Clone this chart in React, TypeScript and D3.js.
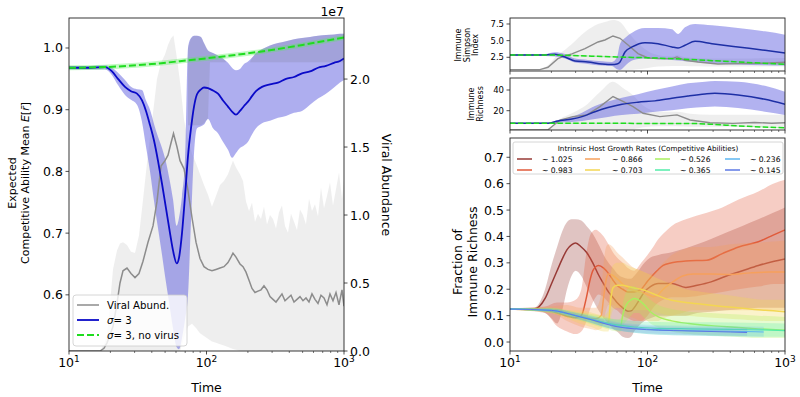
import React from "react";
import * as d3 from "d3";

type Row = [number, number, number, number];

// ---------- left panel: sigma = 3 (left axis) ----------
const sigmaTime = [10, 14.2, 18.3, 20.55, 22.72, 25.55, 28.24, 31.23, 33.96, 36.31, 38.83, 41.52, 44.39, 47.47, 50.76, 54.27, 57.06, 60.73, 63.1, 66.34, 69.78, 73.37, 77.16, 81.13, 85.3, 91.2, 95.9, 102.5, 111.5, 121.2, 131.8, 143.3, 153.3, 163.9, 175.2, 187.4, 200.4, 214.2, 229.1, 253.3, 289.6, 331.1, 378.6, 432.9, 494.9, 565.9, 647.1, 739.8, 845.9, 935.2, 1000];
const sigmaMean = [0.968, 0.968, 0.969, 0.962, 0.95, 0.937, 0.93, 0.926, 0.915, 0.898, 0.875, 0.85, 0.817, 0.78, 0.74, 0.7, 0.672, 0.651, 0.66, 0.7, 0.76, 0.825, 0.87, 0.905, 0.925, 0.933, 0.936, 0.935, 0.931, 0.926, 0.915, 0.905, 0.897, 0.892, 0.898, 0.906, 0.913, 0.922, 0.93, 0.937, 0.941, 0.944, 0.95, 0.953, 0.959, 0.962, 0.968, 0.971, 0.976, 0.979, 0.983];
const sigmaLow = [0.965, 0.965, 0.965, 0.956, 0.94, 0.924, 0.916, 0.908, 0.88, 0.84, 0.8, 0.752, 0.708, 0.665, 0.62, 0.578, 0.546, 0.515, 0.512, 0.53, 0.56, 0.6, 0.72, 0.83, 0.87, 0.873, 0.876, 0.885, 0.87, 0.862, 0.848, 0.835, 0.822, 0.83, 0.838, 0.842, 0.848, 0.86, 0.87, 0.878, 0.882, 0.887, 0.89, 0.895, 0.898, 0.908, 0.918, 0.926, 0.936, 0.944, 0.948];
const sigmaHigh = [0.971, 0.971, 0.972, 0.968, 0.96, 0.948, 0.937, 0.933, 0.932, 0.915, 0.9, 0.877, 0.856, 0.838, 0.815, 0.783, 0.755, 0.712, 0.725, 0.76, 0.82, 1.0, 1.016, 1.02, 1.02, 1.018, 1.008, 0.996, 0.992, 0.988, 0.983, 0.976, 0.968, 0.964, 0.966, 0.974, 0.978, 0.984, 0.992, 0.998, 1.004, 1.008, 1.011, 1.014, 1.016, 1.018, 1.02, 1.021, 1.022, 1.023, 1.023];

// darker overlap patches on the sigma band [t, lo, hi]
const shadeA: [number, number, number][] = [
  [73.37, 0.875, 1.0], [77.16, 0.875, 1.016], [81.13, 0.875, 1.02], [85.3, 0.875, 1.02], [91.2, 0.875, 1.018],
  [95.9, 0.878, 1.008], [102.5, 0.886, 0.996], [106, 0.977, 0.994], [111.5, 0.977, 0.992], [121.2, 0.977, 0.988],
  [131.8, 0.977, 0.983], [138.5, 0.977, 0.978],
];
const shadeB: [number, number, number][] = [
  [207, 0.977, 0.977], [214.2, 0.977, 0.984], [229.1, 0.977, 0.992], [253.3, 0.977, 0.998], [289.6, 0.977, 1.004],
  [331.1, 0.977, 1.008], [378.6, 0.977, 1.011], [432.9, 0.977, 1.014], [494.9, 0.977, 1.016], [565.9, 0.977, 1.018],
  [647.1, 0.977, 1.02], [739.8, 0.977, 1.021], [845.9, 0.977, 1.022], [935.2, 0.977, 1.023], [1000, 0.977, 1.023],
];

// no virus run
const noVirusTime = [10, 18, 40, 73, 140, 245, 500, 1000];
const noVirusMean = [0.968, 0.969, 0.974, 0.98, 0.987, 0.994, 1.005, 1.017];
const noVirusLow = [0.964, 0.965, 0.97, 0.976, 0.983, 0.99, 1.001, 1.013];
const noVirusHigh = [0.972, 0.973, 0.978, 0.984, 0.991, 0.998, 1.009, 1.021];

// viral abundance (right axis, x 1e7)
const viralTime = [10, 16.81, 17.97, 18.9, 19.87, 20.89, 22.34, 23.49, 24.7, 26.41, 28.24, 30.2, 32.29, 34.53, 37.54, 40.83, 43.65, 46.68, 49.91, 52.48, 55.19, 57.54, 61.03, 64.17, 68.62, 73.37, 78.46, 83.88, 89.7, 95.9, 102.5, 109.6, 117.2, 125.4, 134, 143.3, 150.7, 155.8, 163.9, 175.2, 184.3, 193.8, 203.8, 214.2, 225.3, 236.8, 249.1, 261.9, 275.4, 289.6, 304.5, 320.2, 336.7, 354, 372.3, 391.4, 411.6, 432.9, 455.1, 478.6, 503.2, 529.1, 556.4, 585.1, 615.2, 646.9, 680.2, 715.3, 752.1, 790.9, 831.8, 874.6, 919.6, 967, 1000];
const viralMean = [0, 0, 0.02, 0.06, 0.12, 0.18, 0.35, 0.5, 0.59, 0.61, 0.57, 0.54, 0.57, 0.66, 0.8, 0.92, 1.1, 1.36, 1.4, 1.44, 1.53, 1.6, 1.5, 1.4, 1.34, 1.18, 0.98, 0.8, 0.68, 0.62, 0.6, 0.59, 0.6, 0.61, 0.62, 0.65, 0.69, 0.72, 0.69, 0.64, 0.62, 0.58, 0.52, 0.46, 0.43, 0.44, 0.45, 0.48, 0.45, 0.4, 0.38, 0.36, 0.39, 0.42, 0.37, 0.39, 0.41, 0.36, 0.38, 0.4, 0.37, 0.39, 0.36, 0.42, 0.38, 0.35, 0.41, 0.39, 0.34, 0.42, 0.37, 0.43, 0.34, 0.45, 0.33];
const viralLow = [0, 0, 0, 0, 0, 0, 0, 0, 0, 0, 0, 0, 0, 0, 0, 0, 0, 0, 0, 0, 0, 0, 0, 0, 0.1, 0.18, 0.2, 0.17, 0.13, 0.11, 0.09, 0.07, 0.06, 0.05, 0.04, 0.03, 0.02, 0.015, 0.01, 0, 0, 0, 0, 0, 0, 0, 0, 0, 0, 0, 0, 0, 0, 0, 0, 0, 0, 0, 0, 0, 0, 0, 0, 0, 0, 0, 0, 0, 0, 0, 0, 0, 0, 0, 0];
const viralHigh = [0, 0, 0.05, 0.12, 0.35, 0.6, 0.74, 0.79, 0.8, 0.78, 0.73, 0.72, 0.85, 1.11, 1.45, 1.75, 2.0, 2.12, 2.18, 2.25, 2.3, 2.32, 2.15, 1.98, 1.7, 1.55, 1.45, 1.38, 1.3, 1.22, 1.15, 1.06, 1.14, 1.22, 1.25, 1.3, 1.36, 1.4, 1.35, 1.3, 1.25, 1.1, 1.03, 1.09, 0.95, 1.01, 0.97, 1.06, 0.93, 1.0, 0.97, 0.9, 1.02, 1.07, 0.92, 0.87, 1.01, 0.95, 0.89, 1.04, 1.0, 0.93, 1.12, 1.03, 1.08, 0.99, 1.2, 1.05, 1.14, 1.24, 1.07, 1.19, 1.31, 1.12, 1.26];

// ---------- right panels [t, mean, lo, hi] ----------
const simpsonSigma: Row[] = [
  [10, 2.85, 2.7, 3.0], [18, 2.85, 2.7, 3.0], [21.2, 2.95, 2.6, 3.25], [25.1, 2.55, 2.3, 3.0], [29.7, 1.95, 1.7, 2.3],
  [36.9, 1.8, 1.5, 2.1], [46.7, 1.5, 1.25, 1.9], [55.2, 1.4, 1.2, 1.8], [60, 1.5, 0.7, 2.5], [63.1, 1.8, 0.6, 4.5],
  [68.6, 3.3, 1.2, 5.4], [77.2, 4.05, 2.0, 6.2], [95.9, 4.7, 2.3, 6.9], [119.2, 4.55, 2.2, 6.9], [150.7, 4.05, 2.1, 6.7],
  [166.7, 3.9, 2.0, 6.0], [187.4, 4.3, 1.9, 7.0], [221.6, 4.9, 1.8, 7.5], [294.5, 4.55, 1.6, 7.3], [455, 4.05, 1.4, 6.9],
  [715, 3.55, 1.3, 6.4], [1000, 3.15, 1.25, 5.9],
];
const simpsonViral: Row[] = [
  [10, 0.65, 0.6, 0.65], [16.5, 0.65, 0.6, 0.7], [18.9, 1.0, 0.6, 1.3], [22.3, 2.3, 0.6, 2.9], [25, 2.7, 0.6, 3.6],
  [28.2, 3.0, 0.6, 4.5], [35.1, 3.8, 0.6, 6.3], [43.7, 4.8, 0.6, 7.5], [49, 5.1, 0.6, 7.8], [56.1, 5.7, 0.6, 8.1],
  [63.1, 5.35, 0.6, 7.8], [72.2, 4.35, 0.6, 6.3], [85.3, 3.05, 0.7, 4.6], [101, 2.4, 0.9, 3.4], [120, 2.3, 1.1, 2.8],
  [150.7, 2.3, 1.2, 2.6], [163.9, 2.55, 1.2, 2.8], [187.4, 2.05, 1.2, 2.5], [232.8, 1.8, 1.15, 2.4], [325, 1.5, 1.1, 2.3],
  [470, 1.55, 1.1, 2.3], [715, 1.6, 1.1, 2.35], [1000, 1.75, 1.1, 2.4],
];
const simpsonNoVirus: Row[] = [
  [10, 2.85, 2.75, 2.95], [20, 2.83, 2.73, 2.93], [49, 2.6, 2.5, 2.7], [150, 2.3, 2.2, 2.4], [455, 1.8, 1.7, 1.9], [1000, 1.45, 1.35, 1.55],
];
const richSigma: Row[] = [
  [10, 7.8, 7.3, 8.3], [18.9, 7.9, 7.3, 8.5], [22.3, 10, 8.5, 11], [28.2, 12, 9, 14], [33.4, 14.3, 10, 18],
  [41.5, 19, 12, 24.5], [51.6, 23, 14, 29], [65.2, 26.2, 15.8, 32.5], [85.3, 28.2, 17, 36], [113.3, 29.5, 19, 40],
  [150.7, 32.1, 20.5, 43.5], [197, 34.3, 22.3, 46.5], [262, 36.2, 23.5, 48], [309, 36.8, 24, 48.8], [455, 35.2, 22.5, 48],
  [715, 31, 19, 44], [1000, 26.2, 15.8, 38.3],
];
const richViral: Row[] = [
  [10, 1.5, 1.35, 1.6], [18.9, 1.5, 1.35, 2.5], [23.1, 11, 1.35, 12], [28.7, 14.3, 1.35, 18], [36.3, 16, 1.35, 26],
  [45.1, 24, 1.35, 38], [56.1, 33.7, 1.35, 48], [66.3, 28.9, 1.35, 42], [78.5, 24, 2, 35], [92.8, 17.5, 4, 25],
  [123, 14.3, 5, 19], [163.9, 16, 5, 19], [204, 11, 4.5, 17], [284.6, 8.4, 4.5, 16], [418, 7.8, 4.5, 16],
  [600, 8.6, 4.5, 16], [800, 7.9, 4.5, 16], [1000, 8.4, 4.5, 16],
];
const richNoVirus: Row[] = [
  [10, 7.8, 7.3, 8.3], [200, 7.7, 7.2, 8.2], [300, 6.8, 6.3, 7.3], [455, 5.3, 4.8, 5.8], [1000, 3.6, 3.1, 4.1],
];

// fraction of immune richness per growth rate
const rateLabels = ["1.025", "0.983", "0.866", "0.703", "0.526", "0.365", "0.236", "0.145"];
const rateColors = ["#973a36", "#e05a3a", "#f6a05c", "#f3d652", "#a9ef5f", "#52eca8", "#5cb6f0", "#5d78e4"];
const rateBandOpacity = [0.3, 0.3, 0.3, 0.3, 0.28, 0.26, 0.22, 0.14];
const rateLineWidth = [1.5, 1.5, 1.5, 1.5, 1.4, 1.2, 1.1, 1.0];

const fr1025: Row[] = [
  [10, 0.125, 0.122, 0.128], [15, 0.125, 0.12, 0.13], [18, 0.165, 0.11, 0.2], [20, 0.22, 0.09, 0.29], [22, 0.27, 0.07, 0.36],
  [24, 0.315, 0.12, 0.42], [26, 0.35, 0.2, 0.455], [28, 0.368, 0.25, 0.465], [30, 0.375, 0.27, 0.465], [33, 0.36, 0.25, 0.46],
  [36, 0.34, 0.21, 0.44], [40, 0.3, 0.16, 0.41], [44, 0.255, 0.12, 0.37], [48, 0.22, 0.09, 0.33], [52, 0.19, 0.07, 0.3],
  [56, 0.17, 0.05, 0.28], [60, 0.15, 0.04, 0.26], [66, 0.13, 0.02, 0.245], [72, 0.117, 0.015, 0.24], [76, 0.118, 0.02, 0.24],
  [80, 0.13, 0.04, 0.25], [86, 0.155, 0.06, 0.27], [95, 0.19, 0.08, 0.3], [105, 0.21, 0.09, 0.32], [120, 0.222, 0.1, 0.33],
  [150, 0.222, 0.1, 0.34], [190, 0.207, 0.1, 0.355], [230, 0.215, 0.11, 0.37], [290, 0.228, 0.115, 0.39], [375, 0.25, 0.12, 0.415],
  [490, 0.27, 0.125, 0.44], [640, 0.29, 0.13, 0.465], [820, 0.305, 0.13, 0.49], [1000, 0.315, 0.13, 0.51],
];
const fr0983: Row[] = [
  [10, 0.125, 0.122, 0.128], [18, 0.122, 0.11, 0.135], [22, 0.11, 0.06, 0.15], [26, 0.098, 0.04, 0.15], [30, 0.092, 0.03, 0.16],
  [33, 0.1, 0.04, 0.2], [36, 0.17, 0.08, 0.34], [38, 0.23, 0.12, 0.4], [40, 0.27, 0.15, 0.42], [42, 0.285, 0.17, 0.425],
  [44, 0.29, 0.18, 0.42], [48, 0.28, 0.17, 0.4], [52, 0.26, 0.15, 0.37], [56, 0.235, 0.13, 0.34], [60, 0.215, 0.12, 0.32],
  [66, 0.2, 0.1, 0.3], [72, 0.19, 0.09, 0.28], [80, 0.19, 0.08, 0.27], [90, 0.2, 0.08, 0.3], [100, 0.23, 0.1, 0.33],
  [110, 0.255, 0.13, 0.36], [120, 0.275, 0.15, 0.39], [130, 0.29, 0.16, 0.41], [150, 0.3, 0.17, 0.44], [190, 0.307, 0.17, 0.465],
  [270, 0.31, 0.18, 0.49], [350, 0.335, 0.19, 0.51], [460, 0.36, 0.2, 0.54], [640, 0.38, 0.21, 0.57], [820, 0.405, 0.22, 0.6],
  [1000, 0.425, 0.22, 0.615],
];
const fr0866: Row[] = [
  [10, 0.125, 0.122, 0.128], [20, 0.122, 0.11, 0.135], [26, 0.11, 0.08, 0.14], [32, 0.098, 0.06, 0.13], [38, 0.09, 0.05, 0.13],
  [42, 0.088, 0.045, 0.13], [46, 0.1, 0.05, 0.18], [48, 0.17, 0.08, 0.3], [50, 0.235, 0.12, 0.36], [52, 0.258, 0.14, 0.37],
  [56, 0.252, 0.14, 0.36], [60, 0.24, 0.13, 0.34], [66, 0.22, 0.12, 0.32], [72, 0.205, 0.1, 0.3], [80, 0.195, 0.09, 0.28],
  [90, 0.188, 0.08, 0.27], [100, 0.18, 0.08, 0.26], [110, 0.172, 0.08, 0.26], [120, 0.18, 0.08, 0.28], [130, 0.2, 0.09, 0.3],
  [150, 0.225, 0.1, 0.33], [180, 0.25, 0.11, 0.35], [215, 0.258, 0.12, 0.36], [290, 0.258, 0.12, 0.36], [400, 0.256, 0.12, 0.37],
  [560, 0.262, 0.12, 0.375], [770, 0.265, 0.12, 0.38], [1000, 0.265, 0.12, 0.385],
];
const fr0703: Row[] = [
  [10, 0.125, 0.122, 0.128], [20, 0.12, 0.11, 0.13], [26, 0.105, 0.09, 0.12], [32, 0.095, 0.07, 0.12], [40, 0.082, 0.055, 0.11],
  [48, 0.07, 0.04, 0.1], [52, 0.075, 0.04, 0.12], [54, 0.16, 0.09, 0.25], [56, 0.205, 0.12, 0.29], [60, 0.215, 0.13, 0.3],
  [66, 0.215, 0.13, 0.3], [72, 0.21, 0.12, 0.29], [80, 0.205, 0.12, 0.28], [90, 0.2, 0.12, 0.27], [100, 0.192, 0.12, 0.26],
  [120, 0.175, 0.11, 0.24], [150, 0.158, 0.1, 0.22], [190, 0.15, 0.1, 0.2], [250, 0.143, 0.095, 0.19], [350, 0.135, 0.09, 0.18],
  [490, 0.128, 0.085, 0.17], [720, 0.12, 0.08, 0.16], [1000, 0.115, 0.08, 0.16],
];
const fr0526: Row[] = [
  [10, 0.125, 0.122, 0.128], [20, 0.12, 0.11, 0.13], [30, 0.1, 0.085, 0.115], [40, 0.085, 0.065, 0.105], [50, 0.072, 0.05, 0.095],
  [60, 0.062, 0.04, 0.085], [64, 0.065, 0.04, 0.09], [66, 0.1, 0.06, 0.14], [70, 0.14, 0.08, 0.19], [76, 0.16, 0.1, 0.21],
  [80, 0.165, 0.11, 0.21], [86, 0.16, 0.11, 0.2], [95, 0.14, 0.09, 0.18], [105, 0.115, 0.07, 0.16], [120, 0.095, 0.055, 0.14],
  [150, 0.08, 0.04, 0.125], [200, 0.07, 0.03, 0.115], [290, 0.062, 0.025, 0.11], [430, 0.056, 0.02, 0.105], [640, 0.05, 0.015, 0.1],
  [1000, 0.045, 0.015, 0.095],
];
const fr0365: Row[] = [
  [10, 0.125, 0.122, 0.128], [20, 0.12, 0.112, 0.128], [30, 0.1, 0.088, 0.112], [40, 0.085, 0.07, 0.1], [50, 0.073, 0.055, 0.09],
  [60, 0.065, 0.045, 0.085], [80, 0.057, 0.035, 0.08], [120, 0.052, 0.028, 0.076], [200, 0.05, 0.025, 0.075], [400, 0.048, 0.022, 0.074],
  [700, 0.046, 0.02, 0.072], [1000, 0.043, 0.02, 0.07],
];
const fr0236: Row[] = [
  [10, 0.125, 0.122, 0.128], [20, 0.12, 0.113, 0.127], [30, 0.1, 0.09, 0.11], [40, 0.084, 0.07, 0.097], [50, 0.07, 0.055, 0.085],
  [60, 0.06, 0.045, 0.076], [80, 0.052, 0.035, 0.068], [120, 0.046, 0.028, 0.064], [200, 0.043, 0.025, 0.062], [400, 0.041, 0.022, 0.06],
  [700, 0.038, 0.02, 0.058],
];
const fr0145: Row[] = [
  [10, 0.125, 0.122, 0.128], [20, 0.12, 0.114, 0.126], [30, 0.1, 0.09, 0.11], [40, 0.083, 0.072, 0.095], [50, 0.068, 0.056, 0.082],
  [60, 0.058, 0.046, 0.072], [80, 0.05, 0.037, 0.064], [120, 0.045, 0.031, 0.06], [200, 0.042, 0.028, 0.057], [400, 0.038, 0.025, 0.054],
  [530, 0.036, 0.024, 0.052],
];
const rateSeries = [fr1025, fr0983, fr0866, fr0703, fr0526, fr0365, fr0236, fr0145];

const FONT = "DejaVu Sans, sans-serif";
const AX = "#222";

const zip = (t: number[], m: number[], lo: number[], hi: number[]): Row[] => t.map((v, i) => [v, m[i], lo[i], hi[i]]);

function area(rows: any[], x: any, y: any, curve: any = d3.curveMonotoneX) {
  return d3.area<any>().x(d => x(d[0])).y0(d => y(d[rows[0].length - 2])).y1(d => y(d[rows[0].length - 1])).curve(curve)(rows) || "";
}
function line(rows: any[], x: any, y: any, curve: any = d3.curveMonotoneX) {
  return d3.line<any>().x(d => x(d[0])).y(d => y(d[1])).curve(curve)(rows) || "";
}

function LogTicks({ x, y, labels }: { x: any; y: number; labels: boolean }) {
  const ticks: number[] = x.ticks();
  return (
    <g>
      {ticks.map(t => {
        const major = Math.abs(Math.log10(t) - Math.round(Math.log10(t))) < 1e-6;
        return <line key={t} x1={x(t)} x2={x(t)} y1={y} y2={y + (major ? 3.5 : 2)} stroke={AX} strokeWidth={major ? 0.8 : 0.6} />;
      })}
      {labels &&
        [10, 100, 1000].map((t, i) => (
          <text key={t} x={x(t)} y={y + 16} textAnchor="middle" fontSize={12.5}>
            10<tspan dy={-5.5} fontSize={9}>{i + 1}</tspan>
          </text>
        ))}
    </g>
  );
}

function YTicks({ y, x0, ticks, fmt, size, side = "left" }: { y: any; x0: number; ticks: number[]; fmt: (v: number) => string; size: number; side?: string }) {
  const s = side === "left" ? -1 : 1;
  return (
    <g>
      {ticks.map(t => (
        <g key={t}>
          <line x1={x0} x2={x0 + s * 3.5} y1={y(t)} y2={y(t)} stroke={AX} strokeWidth={0.8} />
          <text x={x0 + s * 6} y={y(t) + size * 0.36} fontSize={size} textAnchor={side === "left" ? "end" : "start"}>
            {fmt(t)}
          </text>
        </g>
      ))}
    </g>
  );
}

export default function App() {
  const xL = d3.scaleLog().domain([10, 1000]).range([69, 344]);
  const yL = d3.scaleLinear().domain([0.509, 1.0486]).range([351, 18]);
  const yV = d3.scaleLinear().domain([0, 2.449]).range([351, 18]);
  const xR = d3.scaleLog().domain([10, 1000]).range([510, 785]);
  const yS = d3.scaleLinear().domain([0.44, 8.4]).range([71, 18]);
  const yRi = d3.scaleLinear().domain([1.35, 51.6]).range([130, 78]);
  const yF = d3.scaleLinear().domain([-0.034, 0.773]).range([351, 138]);

  const sigma = zip(sigmaTime, sigmaMean, sigmaLow, sigmaHigh);
  const noVirus = zip(noVirusTime, noVirusMean, noVirusLow, noVirusHigh);
  const viral = zip(viralTime, viralMean, viralLow, viralHigh);
  const f1 = d3.format(".1f");

  const topPanel = (id: string, y: any, sig: Row[], vir: Row[], nov: Row[]) => (
    <g clipPath={`url(#${id})`}>
      <path d={area(vir, xR, y)} fill="#c8c8c8" fillOpacity={0.3} />
      <path d={area(sig, xR, y)} fill="#5555dd" fillOpacity={0.45} />
      <path d={area(nov, xR, y)} fill="#33dd33" fillOpacity={0.3} />
      <path d={line(vir, xR, y, d3.curveLinear)} fill="none" stroke="#8c8c8c" strokeWidth={1.4} />
      <path d={line(sig, xR, y)} fill="none" stroke="#1d2fa5" strokeWidth={1.5} />
      <path d={line(nov, xR, y)} fill="none" stroke="#1fdc1f" strokeWidth={1.5} strokeDasharray="5.5,2.4" />
    </g>
  );

  return (
    <svg width={800} height={397} style={{ position: "absolute", left: 0, top: 0, background: "#fff" }} fontFamily={FONT}>
      <defs>
        <clipPath id="cL"><rect x={69} y={18} width={275} height={333} /></clipPath>
        <clipPath id="cS"><rect x={510} y={18} width={275} height={53} /></clipPath>
        <clipPath id="cR"><rect x={510} y={78} width={275} height={52} /></clipPath>
        <clipPath id="cF"><rect x={510} y={138} width={275} height={213} /></clipPath>
      </defs>

      {/* ---------------- left panel ---------------- */}
      <g clipPath="url(#cL)">
        <path d={area(viral, xL, yV, d3.curveLinear)} fill="#c8c8c8" fillOpacity={0.3} />
        <path d={area(sigma, xL, yL)} fill="#5555dd" fillOpacity={0.48} />
        <path d={area(shadeA, xL, yL, d3.curveLinear)} fill="#7a7a90" fillOpacity={0.22} />
        <path d={area(shadeB, xL, yL, d3.curveLinear)} fill="#7a7a90" fillOpacity={0.22} />
        <path d={area(noVirus, xL, yL)} fill="#55ee55" fillOpacity={0.35} />
        <path d={line(viral, xL, yV, d3.curveLinear)} fill="none" stroke="#8c8c8c" strokeWidth={1.5} />
        <path d={line(sigma, xL, yL)} fill="none" stroke="#0a0ac8" strokeWidth={1.8} />
        <path d={line(noVirus, xL, yL)} fill="none" stroke="#1fdc1f" strokeWidth={2} strokeDasharray="7,3" />
      </g>
      <rect x={69} y={18} width={275} height={333} fill="none" stroke={AX} strokeWidth={0.9} />
      <LogTicks x={xL} y={351} labels />
      <YTicks y={yL} x0={69} ticks={[0.6, 0.7, 0.8, 0.9, 1.0]} fmt={f1} size={12.5} />
      <YTicks y={yV} x0={344} ticks={[0, 0.5, 1.0, 1.5, 2.0]} fmt={f1} size={12.5} side="right" />
      <text x={344} y={16} textAnchor="end" fontSize={12.5}>1e7</text>
      <text x={206.5} y={392} textAnchor="middle" fontSize={12.5}>Time</text>
      <g transform="translate(16,183) rotate(-90)">
        <text textAnchor="middle" fontSize={11}>Expected</text>
      </g>
      <g transform="translate(29,183) rotate(-90)">
        <text textAnchor="middle" fontSize={11}>
          Competitive Ability Mean <tspan fontStyle="italic">E</tspan>[<tspan fontStyle="italic">{"r\u0304"}</tspan>]
        </text>
      </g>
      <g transform="translate(382,185) rotate(90)">
        <text textAnchor="middle" fontSize={12.5}>Viral Abundance</text>
      </g>

      {/* left legend */}
      <g fontSize={10.2}>
        <rect x={73} y={295} width={114} height={51} rx={3} fill="#fff" fillOpacity={0.8} stroke="#cccccc" strokeWidth={0.8} />
        <line x1={77} x2={99} y1={305} y2={305} stroke="#8c8c8c" strokeWidth={1.5} />
        <text x={107} y={309}>Viral Abund.</text>
        <line x1={77} x2={99} y1={320} y2={320} stroke="#0a0ac8" strokeWidth={1.8} />
        <text x={107} y={324}><tspan fontStyle="italic">σ</tspan>= 3</text>
        <line x1={77} x2={99} y1={335} y2={335} stroke="#1fdc1f" strokeWidth={2} strokeDasharray="7,3" />
        <text x={107} y={339}><tspan fontStyle="italic">σ</tspan>= 3, no virus</text>
      </g>

      {/* ---------------- right top panels ---------------- */}
      {topPanel("cS", yS, simpsonSigma, simpsonViral, simpsonNoVirus)}
      <rect x={510} y={18} width={275} height={53} fill="none" stroke={AX} strokeWidth={0.9} />
      <LogTicks x={xR} y={71} labels={false} />
      <YTicks y={yS} x0={510} ticks={[2.5, 5.0, 7.5]} fmt={f1} size={8.5} />
      <g fontSize={8} textAnchor="middle">
        <text transform="translate(461,45) rotate(-90)">Immune</text>
        <text transform="translate(469.5,45) rotate(-90)">Simpson</text>
        <text transform="translate(478,45) rotate(-90)">Index</text>
      </g>

      {topPanel("cR", yRi, richSigma, richViral, richNoVirus)}
      <rect x={510} y={78} width={275} height={52} fill="none" stroke={AX} strokeWidth={0.9} />
      <LogTicks x={xR} y={130} labels={false} />
      <YTicks y={yRi} x0={510} ticks={[20, 40]} fmt={d3.format("d")} size={8.5} />
      <g fontSize={8} textAnchor="middle">
        <text transform="translate(474,104) rotate(-90)">Immune</text>
        <text transform="translate(482.5,104) rotate(-90)">Richness</text>
      </g>

      {/* ---------------- right bottom panel ---------------- */}
      <g clipPath="url(#cF)">
        {rateSeries.map((rows, i) => (
          <g key={rateLabels[i]}>
            <path d={area(rows, xR, yF)} fill={rateColors[i]} fillOpacity={rateBandOpacity[i]} />
            <path d={line(rows, xR, yF)} fill="none" stroke={rateColors[i]} strokeWidth={rateLineWidth[i]} />
          </g>
        ))}
      </g>
      <rect x={510} y={138} width={275} height={213} fill="none" stroke={AX} strokeWidth={0.9} />
      <LogTicks x={xR} y={351} labels />
      <YTicks y={yF} x0={510} ticks={[0, 0.1, 0.2, 0.3, 0.4, 0.5, 0.6, 0.7]} fmt={f1} size={12.5} />
      <text x={647.5} y={392} textAnchor="middle" fontSize={12.5}>Time</text>
      <g fontSize={12.5} textAnchor="middle">
        <text transform="translate(462,262) rotate(-90)">Fraction of</text>
        <text transform="translate(477,262) rotate(-90)">Immune Richness</text>
      </g>

      {/* bottom legend */}
      <g>
        <rect x={513} y={142} width={270} height={32} rx={2} fill="#fff" fillOpacity={0.8} stroke="#cccccc" strokeWidth={0.8} />
        <text x={648} y={150.5} textAnchor="middle" fontSize={7.2}>Intrinsic Host Growth Rates (Competitive Abilities)</text>
        {rateLabels.map((lab, i) => {
          const col = Math.floor(i / 2);
          const row = i % 2;
          const lx = [517, 585, 655, 725][col];
          const tx = [542, 612, 680, 750][col];
          const ly = row === 0 ? 159 : 170;
          return (
            <g key={lab}>
              <line x1={lx} x2={lx + 15} y1={ly} y2={ly} stroke={rateColors[i]} strokeWidth={1.5} />
              <text x={tx} y={ly + 2.7} fontSize={7.6}>~ {lab}</text>
            </g>
          );
        })}
      </g>
    </svg>
  );
}
